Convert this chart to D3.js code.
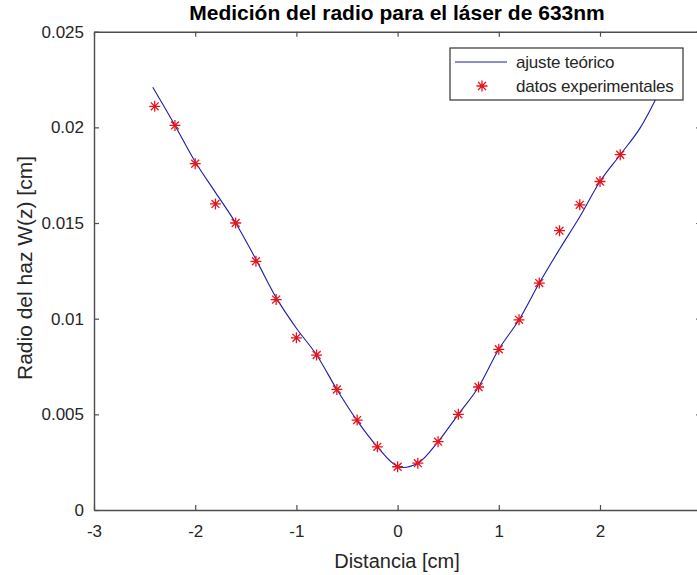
<!DOCTYPE html>
<html>
<head>
<meta charset="utf-8">
<script src="https://cdn.jsdelivr.net/npm/d3@7"></script>
<style>
  html, body { margin: 0; padding: 0; background: #fff; }
  svg { display: block; }
  text { font-family: "Liberation Sans", Arial, sans-serif; }
</style>
</head>
<body>
<svg id="chart" width="697" height="575"></svg>
<script>
// Measured beam radius (cm) at each distance (cm)
const dataZ = [-2.4, -2.2, -2.0, -1.8, -1.6, -1.4, -1.2, -1.0, -0.8, -0.6, -0.4, -0.2,
               0.0, 0.2, 0.4, 0.6, 0.8, 1.0, 1.2, 1.4, 1.6, 1.8, 2.0, 2.2];
const dataW = [0.0211, 0.0201, 0.0181, 0.0160, 0.0150, 0.0130, 0.0110, 0.0090, 0.0081, 0.0063, 0.0047, 0.0033,
               0.00226, 0.00245, 0.00357, 0.0050, 0.00643, 0.0084, 0.00994, 0.01186, 0.0146, 0.01595, 0.01717, 0.01857];

// Theoretical fit curve, sampled
const fitZ = [-2.42, -2.2, -2.0, -1.8, -1.6, -1.4, -1.2, -1.0, -0.8, -0.6, -0.4, -0.2,
              0.0, 0.05, 0.2, 0.4, 0.6, 0.8, 1.0, 1.2, 1.4, 1.6, 1.8, 2.0, 2.2, 2.4, 2.6];
const fitW = [0.0221, 0.0201, 0.0182, 0.0166, 0.0150, 0.0131, 0.0111, 0.0095, 0.0081, 0.0063, 0.00467, 0.0033,
              0.00228, 0.00222, 0.00244, 0.00357, 0.0050, 0.00643, 0.0084, 0.00994, 0.01186, 0.01363, 0.01533, 0.01717, 0.01857, 0.0200, 0.0220];

const xTicks = [-3, -2, -1, 0, 1, 2, 3];
const xTickLabels = ["-3", "-2", "-1", "0", "1", "2", "3"];
const yTicks = [0, 0.005, 0.01, 0.015, 0.02, 0.025];
const yTickLabels = ["0", "0.005", "0.01", "0.015", "0.02", "0.025"];

const titleText = "Medición del radio para el láser de 633nm";
const xLabel = "Distancia [cm]";
const yLabel = "Radio del haz W(z) [cm]";
const legendLabels = ["ajuste teórico", "datos experimentales"];

const svg = d3.select("#chart");
svg.append("rect").attr("width", 697).attr("height", 575).attr("fill", "#fff");

const x = d3.scaleLinear().domain([-3, 3]).range([94, 701.2]);
const y = d3.scaleLinear().domain([0, 0.025]).range([510, 31.7]);

const axisColor = "#4d4d4d";
const textColor = "#262626";
const tickLen = 5;

// Axes box with inward ticks on all four sides
const axes = svg.append("g");
const axBottom = axes.append("g").attr("transform", `translate(0,${y(0)})`)
  .call(d3.axisBottom(x).tickValues(xTicks).tickSizeInner(-tickLen).tickSizeOuter(0).tickPadding(15)
        .tickFormat((d, i) => xTickLabels[i]));
const axTop = axes.append("g").attr("transform", `translate(0,${y(0.025)})`)
  .call(d3.axisTop(x).tickValues(xTicks).tickSizeInner(-tickLen).tickSizeOuter(0).tickFormat(""));
const axLeft = axes.append("g").attr("transform", `translate(${x(-3)},0)`)
  .call(d3.axisLeft(y).tickValues(yTicks).tickSizeInner(-tickLen).tickSizeOuter(0).tickPadding(10)
        .tickFormat((d, i) => yTickLabels[i]));
const axRight = axes.append("g").attr("transform", `translate(${x(3)},0)`)
  .call(d3.axisRight(y).tickValues(yTicks).tickSizeInner(-tickLen).tickSizeOuter(0).tickFormat(""));

[axBottom, axTop, axLeft, axRight].forEach(g => {
  g.select(".domain").attr("stroke", axisColor).attr("stroke-width", 1.4);
  g.selectAll(".tick line").attr("stroke", axisColor).attr("stroke-width", 1.2);
  g.selectAll(".tick text").attr("fill", textColor).attr("font-size", 17)
    .attr("font-family", "'Liberation Sans', Arial, sans-serif");
});

// Fit curve
const line = d3.line().x((d, i) => x(fitZ[i])).y(d => y(d)).curve(d3.curveMonotoneX);
svg.append("path").datum(fitW).attr("d", line)
  .attr("fill", "none").attr("stroke", "#1c1ca8").attr("stroke-width", 1.1);

// Asterisk marker
function starPath(cx, cy, r) {
  const d = r * 0.72;
  return `M${cx - r},${cy}L${cx + r},${cy}` +
         `M${cx},${cy - r}L${cx},${cy + r}` +
         `M${cx - d},${cy - d}L${cx + d},${cy + d}` +
         `M${cx - d},${cy + d}L${cx + d},${cy - d}`;
}

svg.append("g").selectAll("path").data(dataW).join("path")
  .attr("d", (d, i) => starPath(x(dataZ[i]), y(d), 5.5))
  .attr("fill", "none").attr("stroke", "#e8141c").attr("stroke-width", 1.3);

// Legend
const lg = svg.append("g");
lg.append("rect").attr("x", 450).attr("y", 48).attr("width", 233).attr("height", 52)
  .attr("fill", "#fff").attr("stroke", "#333").attr("stroke-width", 1.2);
lg.append("line").attr("x1", 455).attr("x2", 507).attr("y1", 62).attr("y2", 62)
  .attr("stroke", "#1c1ca8").attr("stroke-width", 1.2);
lg.append("path").attr("d", starPath(482, 86, 5.5))
  .attr("fill", "none").attr("stroke", "#e8141c").attr("stroke-width", 1.3);
lg.selectAll("text").data(legendLabels).join("text")
  .attr("x", 516).attr("y", (d, i) => 68 + i * 24)
  .attr("font-size", 17).attr("fill", textColor).attr("letter-spacing", -0.2)
  .text(d => d);

// Title and axis labels
svg.append("text").attr("x", 397).attr("y", 20).attr("text-anchor", "middle")
  .attr("font-size", 21).attr("font-weight", "bold").attr("fill", "#000")
  .text(titleText);
svg.append("text").attr("x", 397).attr("y", 568).attr("text-anchor", "middle")
  .attr("font-size", 20).attr("fill", textColor).text(xLabel);
svg.append("text").attr("transform", "translate(32,268) rotate(-90)").attr("text-anchor", "middle")
  .attr("font-size", 21).attr("fill", textColor).text(yLabel);
</script>
</body>
</html>
